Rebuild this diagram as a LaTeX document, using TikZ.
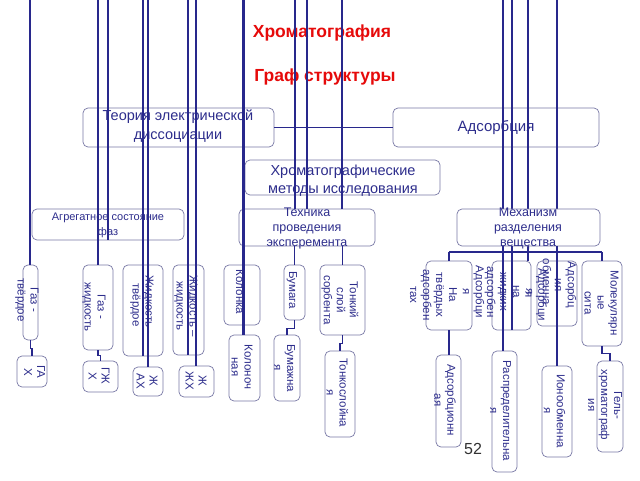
\documentclass[tikz,border=0pt]{standalone}
\usepackage{fontspec}
\setmainfont{Liberation Sans}
\usetikzlibrary{fit}
\definecolor{lnc}{RGB}{40,40,140}
\definecolor{boxc}{RGB}{120,120,165}
\definecolor{txtc}{RGB}{45,45,140}
\definecolor{ttl}{RGB}{230,10,10}
\newcommand\mybox[5]{\node[bx, fit={(#1,#2) (#3,#4)}] (#5) {};}
\tikzset{
 bx/.style={draw=boxc, line width=0.7pt, rounded corners=5pt, fill=white, inner sep=0pt},
 ln/.style={draw=lnc, line width=1.8pt},
 lnt/.style={draw=lnc, line width=1.4pt},
 tx/.style={text=txtc, align=center, inner sep=0pt, font=\fontsize{11.5}{13}\selectfont},
 vt/.style={tx, rotate=-90},
 ttlstyle/.style={text=ttl, inner sep=0pt, font=\bfseries\fontsize{17.5}{22}\selectfont},
}
\begin{document}
\begin{tikzpicture}[x=1pt,y=-1pt]
\useasboundingbox[fill=white] (0,0) rectangle (640,480);
% titles
\node[ttlstyle] (t1) at (322,33) {Хроматография};
\node[ttlstyle] (t2) at (325,77) {Граф структуры};
% boxes
\mybox{83}{108}{274}{147}{teor}
\mybox{393}{108}{599}{147}{ads}
\mybox{245}{160}{440}{195}{hrm}
\mybox{32}{209}{184}{240}{agr}
\mybox{239}{209}{375}{246}{teh}
\mybox{23}{265}{38}{340}{gt}
\mybox{83}{265}{113}{350}{gzh}
\mybox{123}{265}{163}{356}{zht}
\mybox{173}{265}{204}{355}{zhzh}
\mybox{17}{356}{47}{387}{gax}
\mybox{83}{361}{118}{392}{gzhx}
\mybox{133}{367}{163}{396}{zhax}
\mybox{179}{366}{214}{397}{zhzhx}
\mybox{224}{265}{260}{325}{kol}
\mybox{284}{265}{305}{320}{bum}
\mybox{320}{265}{365}{335}{tonk}
\mybox{229}{335}{260}{401}{kolon}
\mybox{274}{335}{300}{401}{bumzh}
\mybox{325}{351}{355}{437}{tonksl}
\mybox{426}{261}{472}{330}{m1}
\mybox{492}{261}{531}{330}{m2}
\mybox{537}{261}{577}{326}{m3}
\mybox{582}{261}{622}{346}{m4}
\mybox{436}{355}{461}{447}{adsb}
\mybox{492}{351}{517}{472}{rasp}
\mybox{542}{366}{572}{457}{iono}
\mybox{597}{361}{623}{452}{gel}
% texts
\node[tx, font=\fontsize{14.5}{19}\selectfont] (tteor) at (178,126) {Теория электрической\\диссоциации};
\node[tx, font=\fontsize{15}{19}\selectfont] (tads) at (496,128) {Адсорбция};
\node[tx, font=\fontsize{14.5}{18}\selectfont] (thrm) at (343,181) {Хроматографические\\методы исследования};
\node[tx, font=\fontsize{11}{15}\selectfont] (tagr) at (108,225) {Агрегатное состояние\\фаз};
\node[tx, font=\fontsize{12.5}{15}\selectfont] (tteh) at (307,228) {Техника\\проведения\\эксперемента};
\node[vt] (tgt) at (27,300) {Газ -\\твёрдое};
\node[vt] (tgzh) at (94,307) {Газ -\\жидкость};
\node[vt] (tzht) at (142,305) {Жидкость -\\твёрдое};
\node[vt] (tzhzh) at (186,306) {Жидкость –\\жидкость};
\node[vt] (tgax) at (34.5,372) {ГА\\Х};
\node[vt] (tgzhx) at (99,376) {ГЖ\\Х};
\node[vt] (tzhax) at (147,381) {Ж\\АХ};
\node[vt] (tzhzhx) at (196,381) {Ж\\ЖХ};
\node[vt] (tkol) at (240,292) {Колонка};
\node[vt] (tbum) at (292,290) {Бумага};
\node[vt] (ttonk) at (340,300) {Тонкий\\слой\\сорбента};
\node[vt] (tkolon) at (242,367) {Колоноч\\ная};
\node[vt] (tbumzh) at (284.5,368) {Бумажна\\я};
\node[vt] (ttonksl) at (337.5,393) {Тонкослойна\\я};
\node[vt] (tadsb) at (445,400) {Адсорбционн\\ая};
\node[vt] (trasp) at (500.5,411) {Распределительна\\я};
\node[vt] (tiono) at (554.5,411) {Ионообменна\\я};
\node[vt] (tgel) at (605,405) {Гель-\\хроматограф\\ия};
\node[vt] (tm4) at (601.5,303) {Молекулярн\\ые\\сита};
\node[vt] (tm1) at (433.5,295) {На\\твёрдых\\адсорбен\\тах};
\node[vt] (tx1) at (473.5,292) {Адсорбци\\я};
\node[vt] (tm2) at (508.5,292) {я\\на\\жидких\\адсорбен};
\node[vt] (tm3) at (565.5,285) {Адсорбц\\ия};
\node[vt] (tx2) at (547,282) {обменна};
\node[vt] (tx3) at (536,295) {Адсорбци\\я};
\node[inner sep=0pt, text={rgb,255:red,50;green,50;blue,50}, font=\fontsize{16}{18}\selectfont] (pg) at (473,449) {52};
% top free ends
\foreach \n/\x in {a1/30,a2/98,a3/108,a4/143,a5/148,a6/188,a7/196,a8/243,a9/295,a10/307,a11/342,a12/503,a13/512,a14/528,a15/557}
  \coordinate (\n) at (\x,0);
\draw[ln] (a1) -- (a1 |- gt.north);
\draw[ln] (a2) -- (a2 |- gzh.north);
\draw[ln] (a3) -- (a3 |- agr.south);
\draw[ln] (a4) -- (a4 |- zht.south);
\draw[ln] (a5) -- (a5 |- zhax.north);
\draw[ln] (a6) -- (a6 |- zhzh.south);
\draw[ln] (a7) -- (a7 |- zhzhx.north);
\draw[ln, line width=3pt] (a8) -- (a8 |- kolon.north);
\draw[ln] (a9) -- (a9 |- teh.north);
\draw[ln] (a10) -- (a10 |- teh.north);
\draw[ln] (a11) -- (a11 |- teh.north);
\draw[ln] (a12) -- (a12 |- rasp.north);
\draw[ln] (a13) -- (a13 |- m2.south);
\draw[ln] (a14) -- (a14 |- m2.north);
\draw[ln] (a15) -- (a15 |- iono.north);
\draw[ln] (teor.east) -- (ads.west);
% below Техника
\draw[ln] (bum.north |- teh.south) -- (bum.north);
\draw[ln] (tonk.north |- teh.south) -- (tonk.north);
% step connectors
\draw[lnt] (gt.south) -- ++(0,8) -| (gax.north);
\draw[lnt] (gzh.south) -- ++(0,5) -| (gzhx.north);
\draw[lnt] (bum.south) -- ++(0,8) -| (bumzh.north);
\draw[lnt] (tonk.south) -- ++(0,8) -| (tonksl.north);
\draw[lnt] (m1.south) -- (m1.south |- adsb.north);
\draw[lnt] (m4.south) -- ++(0,7) -| (gel.north);
% Механизм box over the lines
\mybox{457}{209}{600}{246}{meh}
\node[tx, font=\fontsize{12.5}{15}\selectfont] (tmeh) at (528,228) {Механизм\\разделения\\вещества};
\coordinate (bar) at (528,252);
\draw[lnt] (meh.south) -- (bar);
\draw[lnt] (m1.north |- bar) -- (m4.north |- bar);
\draw[lnt] (m1.north |- bar) -- (m1.north);
\draw[lnt] (m2.north |- bar) -- (m2.north);
\draw[lnt] (m3.north |- bar) -- (m3.north);
\draw[lnt] (m4.north |- bar) -- (m4.north);
\draw[ln] (a12 |- meh.south) -- (a12 |- m1.north);
\draw[ln] (a13 |- meh.south) -- (a13 |- m1.north);
\draw[ln] (a15 |- meh.south) -- (a15 |- m1.north);
\end{tikzpicture}
\end{document}
